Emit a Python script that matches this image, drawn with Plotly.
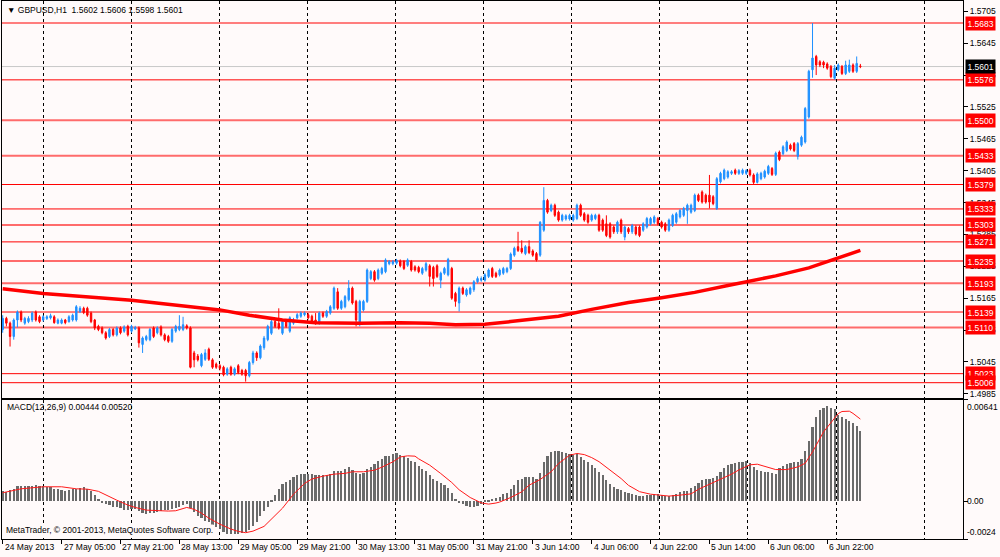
import plotly.graph_objects as go

# GBPUSD H1, one bar per hour (last bar is the one in the header)
opens = [
    1.5106, 1.5127, 1.5118, 1.5093, 1.5124, 1.5139, 1.5118, 1.5121, 1.5124, 1.5139,
    1.5130, 1.5124, 1.5127, 1.5128, 1.5130, 1.5118, 1.5118, 1.5124, 1.5121, 1.5124,
    1.5124, 1.5140, 1.5146, 1.5146, 1.5137, 1.5124, 1.5112, 1.5109, 1.5100, 1.5093,
    1.5106, 1.5096, 1.5109, 1.5103, 1.5112, 1.5103, 1.5107, 1.5109, 1.5078, 1.5087,
    1.5087, 1.5109, 1.5100, 1.5111, 1.5096, 1.5093, 1.5084, 1.5103, 1.5106, 1.5106,
    1.5113, 1.5109, 1.5062, 1.5056, 1.5038, 1.5050, 1.5069, 1.5049, 1.5041, 1.5038,
    1.5035, 1.5022, 1.5035, 1.5022, 1.5038, 1.5029, 1.5029, 1.5019, 1.5044, 1.5062,
    1.5053, 1.5072, 1.5087, 1.5099, 1.5121, 1.5118, 1.5099, 1.5121, 1.5103, 1.5118,
    1.5128, 1.5131, 1.5134, 1.5134, 1.5131, 1.5124, 1.5118, 1.5137, 1.5131, 1.5137,
    1.5146, 1.5177, 1.5146, 1.5149, 1.5162, 1.5184, 1.5159, 1.5118, 1.5143, 1.5159,
    1.5202, 1.5215, 1.5202, 1.5212, 1.5215, 1.5230, 1.5230, 1.5231, 1.5235, 1.5234,
    1.5227, 1.5234, 1.5224, 1.5223, 1.5212, 1.5218, 1.5226, 1.5223, 1.5226, 1.5199,
    1.5212, 1.5209, 1.5221, 1.5174, 1.5156, 1.5184, 1.5171, 1.5174, 1.5181, 1.5196,
    1.5199, 1.5199, 1.5206, 1.5221, 1.5212, 1.5209, 1.5212, 1.5215, 1.5221, 1.5246,
    1.5262, 1.5259, 1.5249, 1.5262, 1.5254, 1.5249, 1.5246, 1.5293, 1.5349, 1.5330,
    1.5340, 1.5327, 1.5312, 1.5314, 1.5314, 1.5312, 1.5315, 1.5340, 1.5324, 1.5321,
    1.5312, 1.5315, 1.5321, 1.5312, 1.5305, 1.5305, 1.5299, 1.5290, 1.5312, 1.5280,
    1.5296, 1.5290, 1.5299, 1.5299, 1.5293, 1.5299, 1.5305, 1.5308, 1.5315, 1.5308,
    1.5305, 1.5293, 1.5302, 1.5308, 1.5318, 1.5321, 1.5330, 1.5327, 1.5330, 1.5359,
    1.5365, 1.5359, 1.5359, 1.5356, 1.5334, 1.5384, 1.5390, 1.5393, 1.5400, 1.5406,
    1.5400, 1.5400, 1.5400, 1.5406, 1.5397, 1.5383, 1.5390, 1.5393, 1.5400, 1.5409,
    1.5398, 1.5440, 1.5437, 1.5443, 1.5453, 1.5456, 1.5432, 1.5453, 1.5459, 1.5506,
    1.5595, 1.5620, 1.5610, 1.5609, 1.5606, 1.5601, 1.5579, 1.5595, 1.5601, 1.5588,
    1.5592, 1.5604, 1.5592, 1.5602,
]
highs = [
    1.5133, 1.5130, 1.5121, 1.5127, 1.5142, 1.5142, 1.5130, 1.5131, 1.5140, 1.5142,
    1.5133, 1.5133, 1.5133, 1.5136, 1.5133, 1.5127, 1.5127, 1.5126, 1.5133, 1.5136,
    1.5152, 1.5150, 1.5149, 1.5149, 1.5140, 1.5126, 1.5115, 1.5112, 1.5103, 1.5109,
    1.5109, 1.5112, 1.5112, 1.5114, 1.5115, 1.5115, 1.5113, 1.5112, 1.5093, 1.5096,
    1.5109, 1.5112, 1.5112, 1.5114, 1.5099, 1.5096, 1.5109, 1.5115, 1.5133, 1.5130,
    1.5116, 1.5112, 1.5066, 1.5060, 1.5062, 1.5069, 1.5072, 1.5052, 1.5044, 1.5041,
    1.5038, 1.5035, 1.5038, 1.5035, 1.5041, 1.5032, 1.5032, 1.5047, 1.5066, 1.5065,
    1.5078, 1.5094, 1.5115, 1.5124, 1.5124, 1.5146, 1.5124, 1.5124, 1.5131, 1.5128,
    1.5137, 1.5140, 1.5140, 1.5137, 1.5134, 1.5137, 1.5140, 1.5140, 1.5143, 1.5152,
    1.5187, 1.5184, 1.5162, 1.5171, 1.5199, 1.5187, 1.5162, 1.5162, 1.5162, 1.5221,
    1.5218, 1.5218, 1.5221, 1.5224, 1.5240, 1.5237, 1.5237, 1.5239, 1.5238, 1.5237,
    1.5240, 1.5237, 1.5227, 1.5226, 1.5224, 1.5233, 1.5229, 1.5226, 1.5229, 1.5215,
    1.5224, 1.5241, 1.5224, 1.5177, 1.5187, 1.5187, 1.5184, 1.5187, 1.5199, 1.5206,
    1.5206, 1.5212, 1.5221, 1.5224, 1.5215, 1.5221, 1.5224, 1.5224, 1.5251, 1.5262,
    1.5290, 1.5274, 1.5265, 1.5274, 1.5257, 1.5252, 1.5310, 1.5374, 1.5352, 1.5343,
    1.5343, 1.5330, 1.5324, 1.5323, 1.5324, 1.5324, 1.5343, 1.5343, 1.5327, 1.5324,
    1.5324, 1.5324, 1.5324, 1.5315, 1.5321, 1.5308, 1.5302, 1.5311, 1.5315, 1.5302,
    1.5299, 1.5305, 1.5302, 1.5302, 1.5308, 1.5318, 1.5318, 1.5321, 1.5318, 1.5311,
    1.5308, 1.5315, 1.5324, 1.5327, 1.5333, 1.5337, 1.5343, 1.5343, 1.5362, 1.5362,
    1.5368, 1.5362, 1.5397, 1.5359, 1.5393, 1.5403, 1.5409, 1.5406, 1.5406, 1.5409,
    1.5408, 1.5409, 1.5408, 1.5409, 1.5400, 1.5402, 1.5403, 1.5407, 1.5416, 1.5412,
    1.5441, 1.5443, 1.5453, 1.5462, 1.5456, 1.5459, 1.5459, 1.5471, 1.5525, 1.5595,
    1.5683, 1.5623, 1.5613, 1.5612, 1.5609, 1.5604, 1.5604, 1.5607, 1.5604, 1.5612,
    1.5614, 1.5607, 1.5620, 1.5606,
]
lows = [
    1.5100, 1.5112, 1.5074, 1.5087, 1.5110, 1.5120, 1.5115, 1.5118, 1.5120, 1.5121,
    1.5118, 1.5121, 1.5124, 1.5125, 1.5117, 1.5116, 1.5116, 1.5116, 1.5119, 1.5121,
    1.5121, 1.5137, 1.5135, 1.5130, 1.5118, 1.5105, 1.5103, 1.5097, 1.5087, 1.5090,
    1.5093, 1.5093, 1.5097, 1.5100, 1.5093, 1.5100, 1.5105, 1.5072, 1.5062, 1.5084,
    1.5084, 1.5090, 1.5097, 1.5093, 1.5084, 1.5081, 1.5081, 1.5100, 1.5103, 1.5103,
    1.5106, 1.5033, 1.5035, 1.5046, 1.5035, 1.5047, 1.5047, 1.5032, 1.5032, 1.5029,
    1.5018, 1.5019, 1.5019, 1.5019, 1.5022, 1.5019, 1.5008, 1.5016, 1.5040, 1.5047,
    1.5050, 1.5068, 1.5084, 1.5096, 1.5109, 1.5106, 1.5096, 1.5109, 1.5100, 1.5115,
    1.5125, 1.5128, 1.5131, 1.5125, 1.5118, 1.5115, 1.5115, 1.5128, 1.5128, 1.5134,
    1.5143, 1.5143, 1.5143, 1.5146, 1.5159, 1.5153, 1.5112, 1.5112, 1.5140, 1.5156,
    1.5199, 1.5196, 1.5199, 1.5209, 1.5212, 1.5227, 1.5227, 1.5228, 1.5223, 1.5218,
    1.5224, 1.5215, 1.5215, 1.5212, 1.5209, 1.5215, 1.5187, 1.5187, 1.5203, 1.5184,
    1.5209, 1.5206, 1.5162, 1.5149, 1.5140, 1.5171, 1.5168, 1.5171, 1.5177, 1.5193,
    1.5196, 1.5196, 1.5203, 1.5203, 1.5203, 1.5206, 1.5209, 1.5212, 1.5218, 1.5243,
    1.5252, 1.5249, 1.5246, 1.5248, 1.5243, 1.5234, 1.5243, 1.5290, 1.5324, 1.5327,
    1.5318, 1.5309, 1.5309, 1.5311, 1.5311, 1.5309, 1.5312, 1.5318, 1.5309, 1.5305,
    1.5309, 1.5312, 1.5290, 1.5290, 1.5280, 1.5277, 1.5286, 1.5286, 1.5286, 1.5274,
    1.5286, 1.5286, 1.5283, 1.5280, 1.5290, 1.5296, 1.5302, 1.5305, 1.5302, 1.5296,
    1.5290, 1.5290, 1.5299, 1.5305, 1.5315, 1.5318, 1.5305, 1.5324, 1.5327, 1.5346,
    1.5343, 1.5343, 1.5334, 1.5340, 1.5331, 1.5381, 1.5387, 1.5390, 1.5397, 1.5397,
    1.5397, 1.5397, 1.5397, 1.5394, 1.5379, 1.5381, 1.5387, 1.5390, 1.5397, 1.5395,
    1.5395, 1.5423, 1.5434, 1.5440, 1.5443, 1.5440, 1.5426, 1.5450, 1.5456, 1.5503,
    1.5580, 1.5585, 1.5600, 1.5598, 1.5595, 1.5579, 1.5576, 1.5592, 1.5585, 1.5585,
    1.5589, 1.5589, 1.5589, 1.5598,
]
closes = [
    1.5127, 1.5118, 1.5093, 1.5124, 1.5139, 1.5124, 1.5127, 1.5127, 1.5137, 1.5124,
    1.5121, 1.5130, 1.5130, 1.5132, 1.5119, 1.5124, 1.5124, 1.5119, 1.5130, 1.5133,
    1.5149, 1.5146, 1.5138, 1.5133, 1.5121, 1.5109, 1.5106, 1.5100, 1.5090, 1.5106,
    1.5096, 1.5109, 1.5100, 1.5111, 1.5096, 1.5112, 1.5110, 1.5081, 1.5090, 1.5093,
    1.5106, 1.5093, 1.5109, 1.5096, 1.5087, 1.5084, 1.5106, 1.5112, 1.5112, 1.5115,
    1.5109, 1.5035, 1.5049, 1.5049, 1.5059, 1.5062, 1.5050, 1.5035, 1.5035, 1.5033,
    1.5021, 1.5032, 1.5022, 1.5032, 1.5025, 1.5022, 1.5019, 1.5044, 1.5062, 1.5053,
    1.5075, 1.5090, 1.5112, 1.5121, 1.5112, 1.5109, 1.5121, 1.5112, 1.5128, 1.5124,
    1.5134, 1.5137, 1.5137, 1.5128, 1.5121, 1.5118, 1.5137, 1.5131, 1.5140, 1.5149,
    1.5184, 1.5146, 1.5159, 1.5168, 1.5184, 1.5156, 1.5124, 1.5159, 1.5159, 1.5218,
    1.5215, 1.5199, 1.5218, 1.5221, 1.5237, 1.5234, 1.5234, 1.5236, 1.5226, 1.5221,
    1.5237, 1.5218, 1.5218, 1.5215, 1.5221, 1.5230, 1.5206, 1.5202, 1.5206, 1.5212,
    1.5221, 1.5238, 1.5165, 1.5159, 1.5184, 1.5174, 1.5181, 1.5184, 1.5196, 1.5202,
    1.5202, 1.5209, 1.5218, 1.5206, 1.5206, 1.5218, 1.5221, 1.5221, 1.5248, 1.5259,
    1.5255, 1.5252, 1.5262, 1.5251, 1.5246, 1.5237, 1.5308, 1.5349, 1.5327, 1.5340,
    1.5321, 1.5312, 1.5321, 1.5320, 1.5321, 1.5321, 1.5340, 1.5321, 1.5312, 1.5308,
    1.5321, 1.5321, 1.5293, 1.5293, 1.5283, 1.5280, 1.5290, 1.5308, 1.5290, 1.5299,
    1.5290, 1.5302, 1.5286, 1.5283, 1.5305, 1.5315, 1.5315, 1.5318, 1.5305, 1.5299,
    1.5293, 1.5312, 1.5321, 1.5324, 1.5330, 1.5334, 1.5340, 1.5340, 1.5359, 1.5349,
    1.5346, 1.5346, 1.5346, 1.5343, 1.5390, 1.5400, 1.5406, 1.5403, 1.5403, 1.5400,
    1.5405, 1.5406, 1.5405, 1.5397, 1.5383, 1.5399, 1.5400, 1.5404, 1.5413, 1.5398,
    1.5438, 1.5426, 1.5450, 1.5459, 1.5446, 1.5443, 1.5456, 1.5468, 1.5522, 1.5592,
    1.5617, 1.5604, 1.5604, 1.5604, 1.5598, 1.5582, 1.5598, 1.5604, 1.5588, 1.5604,
    1.5604, 1.5592, 1.5607, 1.5601,
]
bars = list(range(len(closes)))

# thick moving average, read at a few bars
ma_bars = [0, 11, 35, 59, 67, 76, 85, 97, 108, 116, 123, 131, 138, 149, 151,
           160, 170, 179, 188, 197, 202, 210, 219, 226, 233]
ma_vals = [1.5183, 1.5174, 1.5161, 1.5143, 1.5133, 1.5124, 1.5119, 1.5118, 1.5119,
           1.5118, 1.5115, 1.5116, 1.5121, 1.5129, 1.5131, 1.5144, 1.5157, 1.5166,
           1.5176, 1.5189, 1.5196, 1.5207, 1.5222, 1.5238, 1.5255]

# MACD(12,26,9) histogram, one value per bar
macd_hist = [
    0.00065, 0.00061, 0.00070, 0.00080, 0.00095, 0.00099, 0.00097, 0.00097, 0.00099, 0.00101,
    0.00099, 0.00095, 0.00091, 0.00087, 0.00080, 0.00076, 0.00072, 0.00065, 0.00070, 0.00074,
    0.00078, 0.00084, 0.00087, 0.00078, 0.00065, 0.00040, 0.00015, -0.00006, -0.00019, -0.00027,
    -0.00036, -0.00040, -0.00046, -0.00053, -0.00055, -0.00051, -0.00049, -0.00063, -0.00076, -0.00082,
    -0.00078, -0.00074, -0.00068, -0.00061, -0.00059, -0.00055, -0.00051, -0.00042, -0.00034, -0.00025,
    -0.00021, -0.00042, -0.00070, -0.00091, -0.00108, -0.00124, -0.00135, -0.00150, -0.00162, -0.00177,
    -0.00194, -0.00205, -0.00211, -0.00209, -0.00207, -0.00203, -0.00196, -0.00181, -0.00160, -0.00131,
    -0.00097, -0.00065, -0.00038, 0.00006, 0.00038, 0.00080, 0.00108, 0.00124, 0.00137, 0.00150,
    0.00165, 0.00175, 0.00175, 0.00175, 0.00173, 0.00165, 0.00165, 0.00165, 0.00165, 0.00175,
    0.00192, 0.00192, 0.00194, 0.00205, 0.00217, 0.00200, 0.00177, 0.00171, 0.00179, 0.00203,
    0.00219, 0.00238, 0.00253, 0.00270, 0.00283, 0.00289, 0.00298, 0.00302, 0.00295, 0.00285,
    0.00272, 0.00257, 0.00245, 0.00224, 0.00205, 0.00188, 0.00165, 0.00143, 0.00127, 0.00114,
    0.00103, 0.00084, 0.00053, 0.00015, -0.00006, -0.00017, -0.00030, -0.00036, -0.00036, -0.00032,
    -0.00017, 0.00002, 0.00008, 0.00015, 0.00019, 0.00027, 0.00044, 0.00049, 0.00076, 0.00103,
    0.00131, 0.00143, 0.00152, 0.00156, 0.00152, 0.00143, 0.00179, 0.00247, 0.00285, 0.00310,
    0.00319, 0.00319, 0.00314, 0.00304, 0.00298, 0.00291, 0.00298, 0.00279, 0.00262, 0.00245,
    0.00228, 0.00207, 0.00186, 0.00165, 0.00133, 0.00110, 0.00091, 0.00080, 0.00070, 0.00061,
    0.00053, 0.00044, 0.00038, 0.00034, 0.00034, 0.00036, 0.00042, 0.00044, 0.00046, 0.00042,
    0.00034, 0.00032, 0.00036, 0.00046, 0.00057, 0.00065, 0.00065, 0.00082, 0.00099, 0.00114,
    0.00131, 0.00141, 0.00139, 0.00146, 0.00162, 0.00186, 0.00209, 0.00226, 0.00234, 0.00241,
    0.00247, 0.00251, 0.00255, 0.00241, 0.00217, 0.00200, 0.00192, 0.00186, 0.00186, 0.00181,
    0.00171, 0.00209, 0.00224, 0.00234, 0.00243, 0.00245, 0.00249, 0.00270, 0.00316, 0.00380,
    0.00470, 0.00534, 0.00576, 0.00591, 0.00601, 0.00592, 0.00582, 0.00544, 0.00535, 0.00521,
    0.00510, 0.00496, 0.00475, 0.00444,
]

# signal line, read at a few bars
sig_bars = [0, 5, 11, 16, 20, 23, 26, 28, 31, 34, 36, 39, 42, 45, 47, 49, 50, 52, 54, 56,
            59, 62, 64, 66, 68, 71, 73, 76, 79, 82, 84, 87, 90, 93, 95, 98, 101, 103, 106, 108,
            110, 112, 113, 116, 119, 122, 124, 127, 130, 132, 134, 135, 138, 141, 143, 146, 149,
            151, 154, 156, 158, 160, 162, 165, 168, 170, 173, 176, 179, 181, 184, 187, 189, 192,
            195, 198, 200, 203, 205, 207, 210, 213, 216, 218, 220, 223, 226, 227, 228, 230, 231, 233]
sig_vals = [0.00053, 0.00078, 0.00091, 0.00091, 0.00078, 0.00076, 0.00062, 0.00038, 0.00006, -0.00025,
            -0.00040, -0.00057, -0.00061, -0.00063, -0.00061, -0.00046, -0.00040, -0.00052, -0.00076, -0.00108,
            -0.00146, -0.00177, -0.00192, -0.00200, -0.00190, -0.00160, -0.00115, -0.00045, 0.00044, 0.00112,
            0.00140, 0.00158, 0.00171, 0.00176, 0.00186, 0.00186, 0.00196, 0.00215, 0.00249, 0.00280,
            0.00287, 0.00285, 0.00268, 0.00228, 0.00175, 0.00118, 0.00072, 0.00023, -0.00011, -0.00019,
            -0.00012, -0.00006, 0.00023, 0.00059, 0.00101, 0.00137, 0.00186, 0.00238, 0.00291, 0.00302,
            0.00295, 0.00276, 0.00250, 0.00196, 0.00143, 0.00100, 0.00060, 0.00044, 0.00034, 0.00032,
            0.00038, 0.00046, 0.00075, 0.00108, 0.00137, 0.00171, 0.00198, 0.00230, 0.00234, 0.00220,
            0.00200, 0.00200, 0.00217, 0.00240, 0.00312, 0.00439, 0.00528, 0.00555, 0.00568, 0.00570,
            0.00556, 0.00520]

# horizontal levels drawn on the chart
levels_dark = [1.5683, 1.5576, 1.5379, 1.5333, 1.5271, 1.5139, 1.5023, 1.5006]
levels_light = [1.5500, 1.5433, 1.5303, 1.5235, 1.5193, 1.5110]

price_ticks = [1.4985, 1.5045, 1.5105, 1.5165, 1.5225, 1.5285, 1.5345,
               1.5405, 1.5465, 1.5525, 1.5585, 1.5645, 1.5705]
macd_top, macd_bottom = 0.00641, -0.0024

time_bars = [0, 16, 32, 48, 64, 80, 96, 112, 128, 144, 160, 176, 192, 208, 224]
time_labels = ['24 May 2013', '27 May 05:00', '27 May 21:00', '28 May 13:00', '29 May 05:00',
               '29 May 21:00', '30 May 13:00', '31 May 05:00', '31 May 21:00', '3 Jun 14:00',
               '4 Jun 06:00', '4 Jun 22:00', '5 Jun 14:00', '6 Jun 06:00', '6 Jun 22:00']
grid_bars = [11.0, 34.9, 58.9, 82.8, 106.7, 130.7, 154.6, 178.5, 202.4, 226.4, 250.3]

BG = '#FFFAFA'
FONT = 'Liberation Sans, DejaVu Sans, sans-serif'
FS = 8.5
BULL = '#1E90FF'
BEAR = '#FF0000'

fig = go.Figure()

fig.add_trace(go.Candlestick(
    x=bars, open=opens, high=highs, low=lows, close=closes,
    increasing=dict(line=dict(color=BULL, width=1), fillcolor=BULL),
    decreasing=dict(line=dict(color=BEAR, width=1), fillcolor=BEAR),
    whiskerwidth=0, showlegend=False, hoverinfo='skip', xaxis='x', yaxis='y'))

fig.add_trace(go.Scatter(x=ma_bars, y=ma_vals, mode='lines',
                         line=dict(color='#FF0000', width=3.5),
                         showlegend=False, hoverinfo='skip', xaxis='x', yaxis='y'))

fig.add_trace(go.Bar(x=bars, y=macd_hist, marker=dict(color='#6A6A6A', line=dict(width=0)),
                     width=0.6, showlegend=False, hoverinfo='skip', xaxis='x2', yaxis='y2'))

fig.add_trace(go.Scatter(x=sig_bars, y=sig_vals, mode='lines',
                         line=dict(color='#FF1A1A', width=1),
                         showlegend=False, hoverinfo='skip', xaxis='x2', yaxis='y2'))

# level lines
for lv in levels_dark:
    fig.add_shape(type='line', xref='x domain', yref='y', x0=0, x1=1, y0=lv, y1=lv,
                  line=dict(color='#FF0000', width=1), layer='below')
for lv in levels_light:
    fig.add_shape(type='line', xref='x domain', yref='y', x0=0, x1=1, y0=lv, y1=lv,
                  line=dict(color='#FF6B6B', width=2), layer='below')
fig.add_shape(type='line', xref='x domain', yref='y', x0=0, x1=1,
              y0=closes[-1], y1=closes[-1], line=dict(color='#C8C8C8', width=1), layer='below')

# price boxes on the right scale
for lv in levels_dark + levels_light:
    fig.add_annotation(x=1, xref='paper', y=lv, yref='y', text=f'{lv:.4f}', showarrow=False,
                       xanchor='left', xshift=2, font=dict(family=FONT, size=FS, color='white'),
                       bgcolor='#FF0000', borderpad=1.5)
fig.add_annotation(x=1, xref='paper', y=closes[-1], yref='y', text=f'{closes[-1]:.4f}',
                   showarrow=False, xanchor='left', xshift=2,
                   font=dict(family=FONT, size=FS, color='white'), bgcolor='#000000', borderpad=1.5)

# MACD scale labels
for v, txt, anc in [(macd_top, '0.00641', 'top'), (0, '0.00', 'middle'), (macd_bottom, '-0.0024', 'bottom')]:
    fig.add_annotation(x=1, xref='paper', y=v, yref='y2', text=txt, showarrow=False,
                       xanchor='left', yanchor=anc, xshift=2,
                       font=dict(family=FONT, size=FS, color='black'))

# time labels sit to the right of their tick
for b, txt in zip(time_bars, time_labels):
    fig.add_annotation(x=b, xref='x2', y=0, yref='paper', text=txt, showarrow=False,
                       xanchor='left', yanchor='top', xshift=0, yshift=-1,
                       font=dict(family=FONT, size=FS, color='black'))

# window captions
fig.add_annotation(x=0.003, xref='paper', y=0.984, yref='paper', xanchor='left', yanchor='middle',
                   text='\u25bc GBPUSD,H1  %.4f %.4f %.4f %.4f' % (opens[-1], highs[-1], lows[-1], closes[-1]),
                   showarrow=False, font=dict(family=FONT, size=FS, color='black'))
fig.add_annotation(x=0.003, xref='paper', y=0.2454, yref='paper', xanchor='left', yanchor='middle',
                   text='MACD(12,26,9) %.5f %.5f' % (macd_hist[-1], sig_vals[-1]),
                   showarrow=False, font=dict(family=FONT, size=FS, color='black'))
fig.add_annotation(x=0.003, xref='paper', y=0.0167, yref='paper', xanchor='left', yanchor='middle',
                   text='MetaTrader, \u00a9 2001-2013, MetaQuotes Software Corp.',
                   showarrow=False, bgcolor=BG, borderpad=0,
                   font=dict(family=FONT, size=FS, color='black'))

x_range = [-0.19, 260.88]
grid_minor = dict(tickvals=grid_bars, showgrid=True, gridcolor='black', griddash='3px,3px',
                  gridwidth=1, ticks='')

fig.update_layout(
    width=1000, height=557,
    margin=dict(l=2, r=37, t=1, b=18),
    paper_bgcolor=BG, plot_bgcolor=BG,
    showlegend=False, bargap=0, boxgap=0.45, hovermode=False,
    font=dict(family=FONT, size=FS, color='black'),
    xaxis=dict(domain=[0, 1], anchor='y', range=x_range, showgrid=False, zeroline=False,
               showticklabels=False, ticks='', showline=True, mirror=True, linecolor='black',
               linewidth=1, rangeslider=dict(visible=False), minor=grid_minor),
    yaxis=dict(domain=[0.2621, 1], anchor='x', side='right', range=[1.49772, 1.57244],
               tickvals=price_ticks, ticktext=[f'{v:.4f}' for v in price_ticks],
               ticks='outside', ticklen=4, tickcolor='black', showgrid=False, zeroline=False,
               showline=True, mirror=True, linecolor='black', linewidth=1,
               tickfont=dict(family=FONT, size=FS, color='black')),
    xaxis2=dict(domain=[0, 1], anchor='y2', matches='x', range=x_range, showgrid=False,
                zeroline=False, showticklabels=False, tickvals=time_bars, ticks='outside',
                ticklen=4, tickcolor='black', showline=True, mirror=True, linecolor='black',
                linewidth=1, minor=grid_minor),
    yaxis2=dict(domain=[0, 0.2584], anchor='x2', side='right', range=[macd_bottom, macd_top],
                tickvals=[macd_top, 0, macd_bottom], showticklabels=False, ticks='outside',
                ticklen=4, tickcolor='black', showgrid=False, zeroline=False,
                showline=True, mirror=True, linecolor='black', linewidth=1),
)

# the page's default body margin would push the chart off its 1000x557 frame
fig.write_html('out.html', config={'displayModeBar': False},
               post_script="document.body.style.margin='0';")
